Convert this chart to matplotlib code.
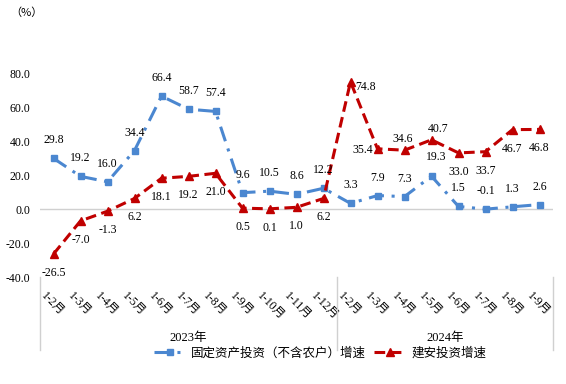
import numpy as np
import matplotlib
matplotlib.use("Agg")
import matplotlib.pyplot as plt
import matplotlib.transforms as mtransforms

# data
months = ["1-2月", "1-3月", "1-4月", "1-5月", "1-6月", "1-7月", "1-8月", "1-9月", "1-10月", "1-11月", "1-12月",
          "1-2月", "1-3月", "1-4月", "1-5月", "1-6月", "1-7月", "1-8月", "1-9月"]
years = ["2023年", "2024年"]
year_counts = [11, 8]
fixed_inv = [29.8, 19.2, 16.0, 34.4, 66.4, 58.7, 57.4, 9.6, 10.5, 8.6, 12.2,
             3.3, 7.9, 7.3, 19.3, 1.5, -0.1, 1.3, 2.6]
construct_inv = [-26.5, -7.0, -1.3, 6.2, 18.1, 19.2, 21.0, 0.5, 0.1, 1.0, 6.2,
                 74.8, 35.4, 34.6, 40.7, 33.0, 33.7, 46.7, 46.8]
yticks = [-40, -20, 0, 20, 40, 60, 80]
labels = ["固定资产投资（不含农户）增速", "建安投资增速"]

blue = "#4B87D0"
red = "#C00000"
num_font = ["Liberation Serif", "Noto Sans CJK SC"]
cjk_font = ["Noto Sans CJK SC", "DejaVu Sans"]

fig = plt.figure(figsize=(5.66, 3.84), dpi=100)
W, H = 566, 384
ax = fig.add_axes([40 / W, (H - 277) / H, (553 - 40) / W, (277 - 73) / H])

x = np.arange(len(months))
ax.plot(x, fixed_inv, color=blue, lw=2.2, dashes=(5, 2.5, 1, 2.5), marker="s", ms=5,
        label=labels[0], zorder=3)
ax.plot(x, construct_inv, color=red, lw=2.2, dashes=(3.5, 1.8), marker="^", ms=6,
        label=labels[1], zorder=3)

ax.set_xlim(-0.5, len(months) - 0.5)
ax.set_ylim(-40, 80)
ax.axhline(0, color="#d0d0d0", lw=1, zorder=1)
for s in ax.spines.values():
    s.set_visible(False)

ax.set_yticks(yticks)
ax.set_yticklabels([f"{v:.1f}" for v in yticks], family=num_font, fontsize=8.5)
ax.tick_params(axis="y", length=0, pad=7)
ax.set_xticks(x)
ax.set_xticklabels(months, rotation=-45, ha="left", va="top", rotation_mode="anchor",
                   family=num_font, fontsize=8.5)
ax.tick_params(axis="x", length=0, pad=9)
for lab in ax.get_xticklabels():
    lab.set_transform(lab.get_transform() + mtransforms.ScaledTranslation(-6 / 100, 0, fig.dpi_scale_trans))

# group separators and year labels
trans = mtransforms.blended_transform_factory(ax.transData, ax.transAxes)
edges = np.concatenate([[0], np.cumsum(year_counts)]) - 0.5
for e in edges:
    ax.plot([e, e], [0, -0.36], transform=trans, color="#d0d0d0", lw=1, clip_on=False)
for i, yr in enumerate(years):
    ax.text((edges[i] + edges[i + 1]) / 2, -0.30, yr, transform=trans, ha="center", va="center",
            family=num_font, fontsize=9)

# data labels (pixel offsets)
blue_off = [(0, 18)] * len(fixed_inv)
blue_off[14] = (5, 19)
red_off = [(0, -19)] * len(construct_inv)
red_off[11] = (15, -5)
red_off[12] = (-15, -1)
red_off[13] = (-2, 11)
red_off[14] = (7, 11)
for i, v in enumerate(fixed_inv):
    ax.annotate(f"{v:.1f}", (x[i], v), xytext=blue_off[i], textcoords="offset pixels",
                ha="center", va="center", family=num_font, fontsize=8.5, annotation_clip=False)
for i, v in enumerate(construct_inv):
    ax.annotate(f"{v:.1f}", (x[i], v), xytext=red_off[i], textcoords="offset pixels",
                ha="center", va="center", family=num_font, fontsize=8.5, annotation_clip=False)

fig.text(10 / W, 1 - 13 / H, "（%）", family=cjk_font, fontsize=8, va="center", ha="left")

leg = fig.legend(loc="center", bbox_to_anchor=(320 / W, 1 - 353 / H), ncol=2, frameon=False,
                 prop={"family": cjk_font, "size": 9}, handlelength=2.6, columnspacing=0.6,
                 handletextpad=0.4, borderpad=0)

fig.savefig("out.png", dpi=100)
